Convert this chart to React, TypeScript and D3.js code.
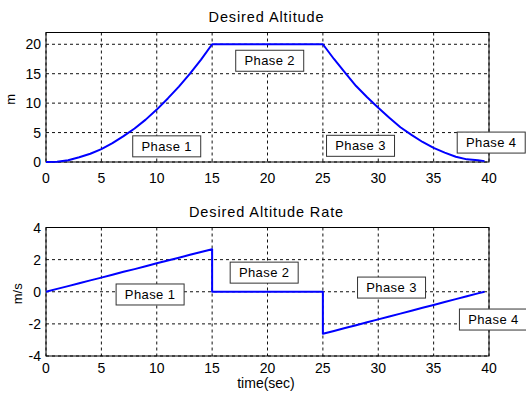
import * as d3 from "d3";

// altitude profile (m) vs time (s)
const altTime = [0, 1, 2, 3, 4, 5, 6, 7, 8, 9, 10, 11, 12, 13, 14, 15, 20, 25, 26, 27, 28, 29, 30, 31, 32, 33, 34, 35, 36, 37, 38, 39, 39.6];
const altValue = [0, 0.05, 0.3, 0.8, 1.4, 2.2, 3.2, 4.4, 5.7, 7.2, 8.9, 10.8, 12.8, 15.0, 17.4, 20, 20, 20, 17.5, 15.2, 12.9, 11.0, 9.2, 7.5, 5.9, 4.6, 3.4, 2.4, 1.6, 0.9, 0.45, 0.3, 0.15];

// altitude rate (m/s) vs time (s)
const rateTime = [0, 1, 2, 3, 4, 5, 6, 7, 8, 9, 10, 11, 12, 13, 14, 15, 15, 20, 25, 25, 26, 27, 28, 29, 30, 31, 32, 33, 34, 35, 36, 37, 38, 39, 39.6];
const rateValue = [0, 0.18, 0.35, 0.53, 0.71, 0.88, 1.06, 1.24, 1.41, 1.59, 1.77, 1.94, 2.12, 2.3, 2.47, 2.65, 0, 0, 0, -2.62, -2.44, -2.26, -2.08, -1.9, -1.72, -1.54, -1.36, -1.18, -1.0, -0.82, -0.64, -0.46, -0.28, -0.1, 0];

const xTicks = [0, 5, 10, 15, 20, 25, 30, 35, 40];
const altTicks = [0, 5, 10, 15, 20];
const rateTicks = [-4, -2, 0, 2, 4];

// phase labels, anchored in data coords (label centre)
const altLabels = ["Phase 1", "Phase 2", "Phase 3", "Phase 4"];
const altLabelT = [10.9, 20.2, 28.4, 40.2];
const altLabelV = [2.66, 17.2, 2.75, 3.3];
const rateLabels = ["Phase 1", "Phase 2", "Phase 3", "Phase 4"];
const rateLabelT = [9.4, 19.7, 31.2, 40.4];
const rateLabelV = [-0.17, 1.19, 0.26, -1.73];

const FONT = "'Liberation Sans', Arial, Helvetica, sans-serif";
const W = 526;
const H = 395;
const left = 46;
const right = 489;

type PanelProps = {
  title: string;
  titleY: number;
  yLabel: string;
  yLabelX: number;
  top: number;
  bottom: number;
  yDomain: [number, number];
  yTicks: number[];
  xTickOffset: number;
  t: number[];
  v: number[];
  labels: string[];
  labelT: number[];
  labelV: number[];
};

function Panel(p: PanelProps) {
  const x = d3.scaleLinear().domain([0, 40]).range([left, right]);
  const y = d3.scaleLinear().domain(p.yDomain).range([p.bottom, p.top]);
  const line = d3
    .line<number>()
    .x((_, i) => x(p.t[i]))
    .y((d) => y(d));

  return (
    <g>
      {/* grid */}
      {xTicks.map((tk) => (
        <line key={"gx" + tk} x1={x(tk)} x2={x(tk)} y1={p.top} y2={p.bottom}
          stroke="#111" strokeWidth={1} strokeDasharray="3,3" />
      ))}
      {p.yTicks.map((tk) => (
        <line key={"gy" + tk} x1={left} x2={right} y1={y(tk)} y2={y(tk)}
          stroke="#111" strokeWidth={1} strokeDasharray="3,3" />
      ))}
      {/* box */}
      <rect x={left} y={p.top} width={right - left} height={p.bottom - p.top}
        fill="none" stroke="#000" strokeWidth={1} />
      {/* data */}
      <path d={line(p.v) ?? ""} fill="none" stroke="#0000ff" strokeWidth={2}
        strokeLinejoin="round" />
      {/* tick labels */}
      {xTicks.map((tk) => (
        <text key={"tx" + tk} x={x(tk)} y={p.bottom + p.xTickOffset} textAnchor="middle"
          fontFamily={FONT} fontSize={14} fill="#000">{tk}</text>
      ))}
      {p.yTicks.map((tk) => (
        <text key={"ty" + tk} x={left - 5} y={y(tk)} dy="0.36em" textAnchor="end"
          fontFamily={FONT} fontSize={14} fill="#000">{tk}</text>
      ))}
      {/* title and y label */}
      <text x={(left + right) / 2 - 1} y={p.titleY} textAnchor="middle" fontFamily={FONT}
        fontSize={14.5} letterSpacing={0.9} fill="#000">{p.title}</text>
      <text transform={`translate(${p.yLabelX},${(p.top + p.bottom) / 2 + 2}) rotate(-90)`}
        textAnchor="middle" fontFamily={FONT} fontSize={13} fill="#000">{p.yLabel}</text>
      {/* phase boxes */}
      {p.labels.map((lb, i) => {
        const cx = x(p.labelT[i]);
        const cy = y(p.labelV[i]);
        const bw = 68;
        const bh = 21;
        return (
          <g key={"lb" + i}>
            <rect x={cx - bw / 2} y={cy - bh / 2} width={bw} height={bh}
              fill="#fff" stroke="#333" strokeWidth={1} />
            <text x={cx} y={cy} dy="0.36em" textAnchor="middle" fontFamily={FONT}
              fontSize={13} letterSpacing={0.4} fill="#000">{lb}</text>
          </g>
        );
      })}
    </g>
  );
}

export default function App() {
  return (
    <svg width={W} height={H} viewBox={`0 0 ${W} ${H}`}
      style={{ position: "absolute", left: 0, top: 0, background: "#fff" }}>
      <rect width={W} height={H} fill="#fff" />
      <Panel
        title="Desired Altitude"
        titleY={22}
        yLabel="m"
        yLabelX={15}
        top={32.5}
        bottom={162}
        yDomain={[0, 22]}
        yTicks={altTicks}
        xTickOffset={21}
        t={altTime}
        v={altValue}
        labels={altLabels}
        labelT={altLabelT}
        labelV={altLabelV}
      />
      <Panel
        title="Desired Altitude Rate"
        titleY={217}
        yLabel="m/s"
        yLabelX={22}
        top={227.5}
        bottom={356}
        yDomain={[-4, 4]}
        yTicks={rateTicks}
        xTickOffset={17}
        t={rateTime}
        v={rateValue}
        labels={rateLabels}
        labelT={rateLabelT}
        labelV={rateLabelV}
      />
      <text x={266} y={388} textAnchor="middle" fontFamily={FONT} fontSize={14} fill="#000">
        time(sec)
      </text>
    </svg>
  );
}
